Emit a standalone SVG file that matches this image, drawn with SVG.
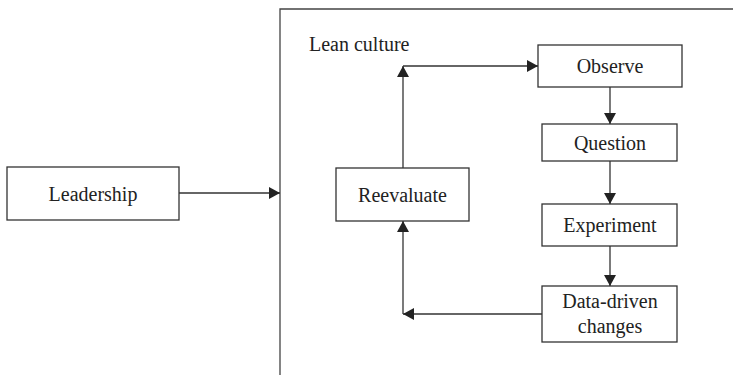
<svg xmlns="http://www.w3.org/2000/svg" width="733" height="375" viewBox="0 0 733 375">
<style>
.box{fill:#fff;stroke:#333;stroke-width:1.3}
.frame{fill:none;stroke:#444;stroke-width:1.3}
.lbl{font-size:20px;fill:#222;text-anchor:middle}
.conn{fill:none;stroke:#333;stroke-width:1.3;marker-end:url(#ah)}
</style>
<defs>
<marker id="ah" markerUnits="userSpaceOnUse" markerWidth="12" markerHeight="13" refX="11" refY="6" orient="auto" viewBox="0 0 12 13">
<path d="M0,0 L11,6 L0,12 z" fill="#222"/>
</marker>
</defs>
<rect width="733" height="375" fill="#fff"/>
<g font-family="'Liberation Serif', 'Times New Roman', serif">
<g id="lean-culture">
<path class="frame" d="M280,375 L280,9 L733,9"/>
<text class="lbl" x="309" y="51" style="text-anchor:start">Lean culture</text>
</g>
<g id="leadership">
<rect class="box" x="7" y="167" width="172" height="53"/>
<text class="lbl" x="93" y="201">Leadership</text>
</g>
<g id="observe">
<rect class="box" x="538" y="45" width="144" height="42"/>
<text class="lbl" x="610" y="73">Observe</text>
</g>
<g id="question">
<rect class="box" x="542" y="124" width="135" height="37"/>
<text class="lbl" x="610" y="150">Question</text>
</g>
<g id="experiment">
<rect class="box" x="542" y="204" width="135" height="42"/>
<text class="lbl" x="610" y="232">Experiment</text>
</g>
<g id="data-driven-changes">
<rect class="box" x="542" y="286" width="135" height="56"/>
<text class="lbl" x="610" y="308">Data-driven</text>
<text class="lbl" x="610" y="333">changes</text>
</g>
<g id="reevaluate">
<rect class="box" x="336" y="168" width="133" height="53"/>
<text class="lbl" x="402.5" y="202">Reevaluate</text>
</g>
</g>
<g id="connectors">
<path class="conn" d="M179,193 L280,193"/>
<path class="conn" d="M610,87 L610,124"/>
<path class="conn" d="M610,161 L610,204"/>
<path class="conn" d="M610,246 L610,286"/>
<path class="conn" d="M542,314 L403,314"/>
<path class="conn" d="M403,314 L403,221"/>
<path class="conn" d="M403,168 L403,66"/>
<path class="conn" d="M403,66 L538,66"/>
</g>
</svg>
